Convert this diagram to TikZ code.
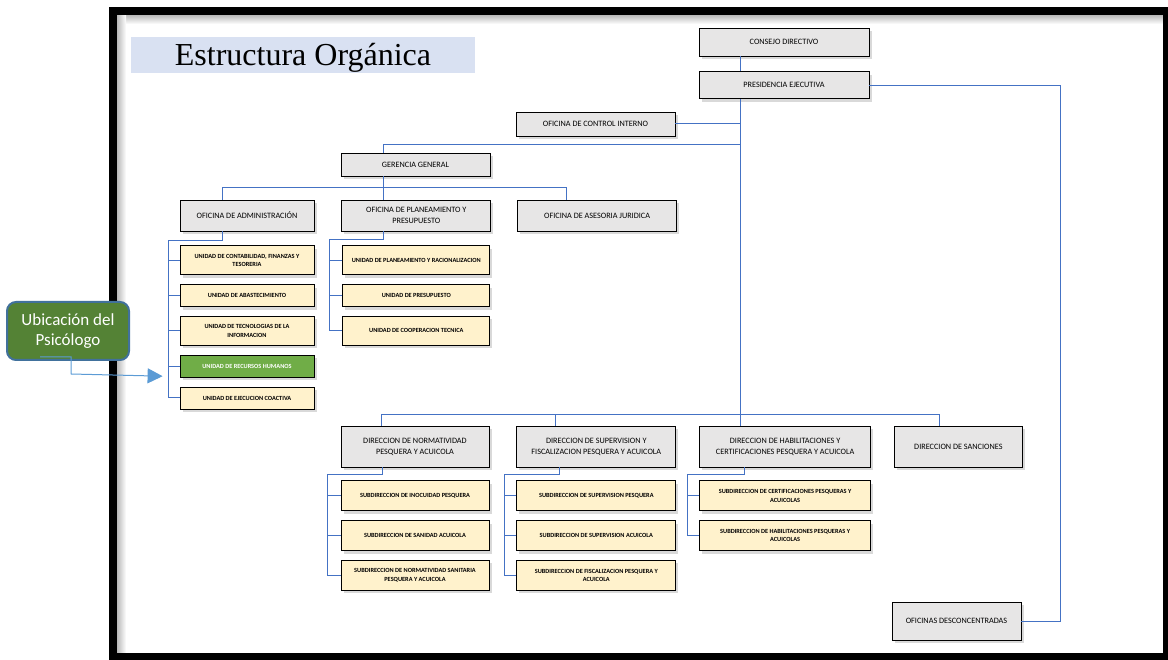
\documentclass[tikz,border=0pt]{standalone}
\usepackage{fontspec}
\setmainfont{Carlito}
\newfontfamily\titlefont{Liberation Serif}
\usetikzlibrary{positioning,arrows.meta,calc,shadows}

\definecolor{ofigray}{RGB}{231,230,230}
\definecolor{uniyellow}{RGB}{255,242,204}
\definecolor{rrhhgreen}{RGB}{112,173,71}
\definecolor{notagreen}{RGB}{84,130,53}
\definecolor{notaborde}{RGB}{65,113,156}
\definecolor{titleblue}{RGB}{217,225,242}
\definecolor{conblue}{RGB}{68,114,196}
\definecolor{ptrblue}{RGB}{91,155,213}

\begin{document}
\begin{tikzpicture}[
    x=1pt, y=1pt,
    font=\fontsize{8.2}{11}\selectfont,
    node distance=9pt and 26pt,
    >={Triangle[length=15pt,width=15pt]},
    blk/.style    ={draw=black, line width=0.8pt, align=center, inner sep=1pt,
                    drop shadow={shadow xshift=2.5pt, shadow yshift=-3pt, opacity=0.3}},
    ofi/.style    ={blk, fill=ofigray},
    uni/.style    ={blk, fill=uniyellow, font=\bfseries\fontsize{6.3}{8.5}\selectfont},
    rrhh/.style   ={uni, fill=rrhhgreen, text=white},
    nota/.style   ={draw=notaborde, line width=2pt, rounded corners=9pt, fill=notagreen,
                    text=white, align=center, minimum width=122pt, minimum height=58pt,
                    font=\fontsize{17}{19.5}\selectfont},
    titulo/.style ={fill=titleblue, minimum width=344pt, minimum height=36pt,
                    text height=22pt, text depth=0pt,
                    font=\titlefont\fontsize{32}{32}\selectfont},
    marco/.style  ={draw=black, line width=8pt},
    con/.style    ={line width=1pt, draw=conblue},
    pointer/.style={->, line width=1pt, draw=ptrblue},
]
\useasboundingbox (0,0) rectangle (1168,-660);

% ============================================================
% MARCO + TITULO
% ============================================================
\shade[top color=gray!55, bottom color=white] (117,-15) rectangle (1163,-24);
\shade[left color=gray!55, right color=white] (117,-15) rectangle (126,-653);
\draw[marco] (113,-11) rectangle (1167,-657);

\node[titulo] (tit) at (303,-55) {Estructura Orgánica};

% ============================================================
% ALTA DIRECCION
% ============================================================
\node[ofi, minimum width=170pt, minimum height=28pt] (cd) at (784,-42) {CONSEJO DIRECTIVO};
\node[ofi, minimum width=170pt, minimum height=27pt, below=15pt of cd] (pe) {PRESIDENCIA EJECUTIVA};
\node[ofi, minimum width=159pt, minimum height=24pt] (oci) at (595.5,-124) {OFICINA DE CONTROL INTERNO};
\node[ofi, minimum width=149pt, minimum height=23pt] (gg) at (415.5,-164.5) {GERENCIA GENERAL};

% --- oficinas de la gerencia ---
\node[ofi, minimum width=134pt, minimum height=31pt] (adm) at (247,-215.5) {OFICINA DE ADMINISTRACIÓN};
\node[ofi, minimum width=149pt, minimum height=31pt, right=27pt of adm] (opp)
    {OFICINA DE PLANEAMIENTO Y\\PRESUPUESTO};
\node[ofi, minimum width=159pt, minimum height=31pt, right=26pt of opp] (oaj)
    {OFICINA DE ASESORIA JURIDICA};

% --- unidades de administracion ---
\node[uni,  minimum width=134pt, minimum height=29pt, below=14pt of adm] (u1)
    {UNIDAD DE CONTABILIDAD, FINANZAS Y\\TESORERIA};
\node[uni,  minimum width=134pt, minimum height=22pt, below=of u1] (u2) {UNIDAD DE ABASTECIMIENTO};
\node[uni,  minimum width=134pt, minimum height=29pt, below=of u2] (u3)
    {UNIDAD DE TECNOLOGIAS DE LA\\INFORMACION};
\node[rrhh, minimum width=134pt, minimum height=22pt, below=of u3] (u4) {UNIDAD DE RECURSOS HUMANOS};
\node[uni,  minimum width=134pt, minimum height=22pt, below=of u4] (u5) {UNIDAD DE EJECUCION COACTIVA};

% --- unidades de planeamiento ---
\node[uni, minimum width=147pt, minimum height=29pt, below=14pt of opp] (p1)
    {UNIDAD DE PLANEAMIENTO Y RACIONALIZACION};
\node[uni, minimum width=147pt, minimum height=22pt, below=of p1] (p2) {UNIDAD DE PRESUPUESTO};
\node[uni, minimum width=147pt, minimum height=29pt, below=of p2] (p3) {UNIDAD DE COOPERACION TECNICA};

% ============================================================
% ORGANOS DE LINEA
% ============================================================
\node[ofi, minimum width=148pt, minimum height=41pt] (dn) at (415,-446.5)
    {DIRECCION DE NORMATIVIDAD\\PESQUERA Y ACUICOLA};
\node[ofi, minimum width=159pt, minimum height=41pt, right=27pt of dn] (ds)
    {DIRECCION DE SUPERVISION Y\\FISCALIZACION PESQUERA Y ACUICOLA};
\node[ofi, minimum width=171pt, minimum height=41pt, right=23pt of ds] (dh)
    {DIRECCION DE HABILITACIONES Y\\CERTIFICACIONES PESQUERA Y ACUICOLA};
\node[ofi, minimum width=128pt, minimum height=41pt, right=23pt of dh] (dsa) {DIRECCION DE SANCIONES};

\node[uni, minimum width=148pt, minimum height=30pt, below=13pt of dn] (n1) {SUBDIRECCION DE INOCUIDAD PESQUERA};
\node[uni, minimum width=148pt, minimum height=30pt, below=of n1] (n2) {SUBDIRECCION DE SANIDAD ACUICOLA};
\node[uni, minimum width=148pt, minimum height=30pt, below=of n2] (n3)
    {SUBDIRECCION DE NORMATIVIDAD SANITARIA\\PESQUERA Y ACUICOLA};

\node[uni, minimum width=159pt, minimum height=30pt, below=13pt of ds] (s1) {SUBDIRECCION DE SUPERVISION PESQUERA};
\node[uni, minimum width=159pt, minimum height=30pt, below=of s1] (s2) {SUBDIRECCION DE SUPERVISION ACUICOLA};
\node[uni, minimum width=159pt, minimum height=30pt, below=of s2] (s3)
    {SUBDIRECCION DE FISCALIZACION PESQUERA Y\\ACUICOLA};

\node[uni, minimum width=171pt, minimum height=30pt, below=13pt of dh] (h1)
    {SUBDIRECCION DE CERTIFICACIONES PESQUERAS Y\\ACUICOLAS};
\node[uni, minimum width=171pt, minimum height=30pt, below=of h1] (h2)
    {SUBDIRECCION DE HABILITACIONES PESQUERAS Y\\ACUICOLAS};

\node[ofi, minimum width=129pt, minimum height=38pt] (od) at (956.5,-621) {OFICINAS DESCONCENTRADAS};

% ============================================================
% CONECTORES
% ============================================================
\coordinate (spine) at ([xshift=-44pt]cd.south);
\draw[con] (spine) -- (spine |- pe.north);
\draw[con] (spine |- pe.south) -- (spine |- dh.north);
\draw[con] (oci.east) -- (oci.east -| spine);
\draw[con] ([xshift=-32.5pt]gg.north) |- ([yshift=8pt]gg.north -| spine);
\draw[con] (pe.east) -- ++(191,0) |- (od.east);

% gerencia -> oficinas
\draw[con] ([xshift=-32.5pt]gg.south) -- ++(0,-12);
\draw[con] ([xshift=-25pt]adm.north) |- ([xshift=-30.5pt,yshift=12pt]oaj.north) -- ([xshift=-30.5pt]oaj.north);
\draw[con] ([xshift=-32.5pt]opp.north) -- ++(0,12);

% oficinas -> unidades
\draw[con] ([xshift=-25pt]adm.south) -- ++(0,-9) -| ([xshift=-11pt]u5.west) -- (u5.west);
\foreach \n in {u1,u2,u3,u4} \draw[con] (\n.west) -- ++(-11,0);
\draw[con] ([xshift=-32.5pt]opp.south) -- ++(0,-8) -| ([xshift=-13pt]p3.west) -- (p3.west);
\foreach \n in {p1,p2} \draw[con] (\n.west) -- ++(-13,0);

% direcciones
\draw[con] ([xshift=-34pt]dn.north) |- ([xshift=-19pt,yshift=11pt]dsa.north) -- ([xshift=-19pt]dsa.north);
\draw[con] ([xshift=-40.5pt]ds.north) -- ++(0,11);

% direcciones -> subdirecciones
\draw[con] ([xshift=-33pt]dn.south) -- ++(0,-7) -| ([xshift=-13pt]n3.west) -- (n3.west);
\foreach \n in {n1,n2} \draw[con] (\n.west) -- ++(-13,0);
\draw[con] ([xshift=-36.5pt]ds.south) -- ++(0,-7) -| ([xshift=-12pt]s3.west) -- (s3.west);
\foreach \n in {s1,s2} \draw[con] (\n.west) -- ++(-12,0);
\draw[con] ([xshift=-40.5pt]dh.south) -- ++(0,-7) -| ([xshift=-12pt]h2.west) -- (h2.west);
\draw[con] (h1.west) -- ++(-12,0);

% ============================================================
% UBICACION DEL PSICOLOGO
% ============================================================
\node[nota] (psi) at (68,-331) {Ubicación del\\Psicólogo};
\coordinate (tip) at ([shift={(-17pt,-10pt)}]u4.west);
\draw[pointer] ([shift={(-28pt,4pt)}]psi.south) -| ++(31,-17) -- (tip);

\end{tikzpicture}
\end{document}
